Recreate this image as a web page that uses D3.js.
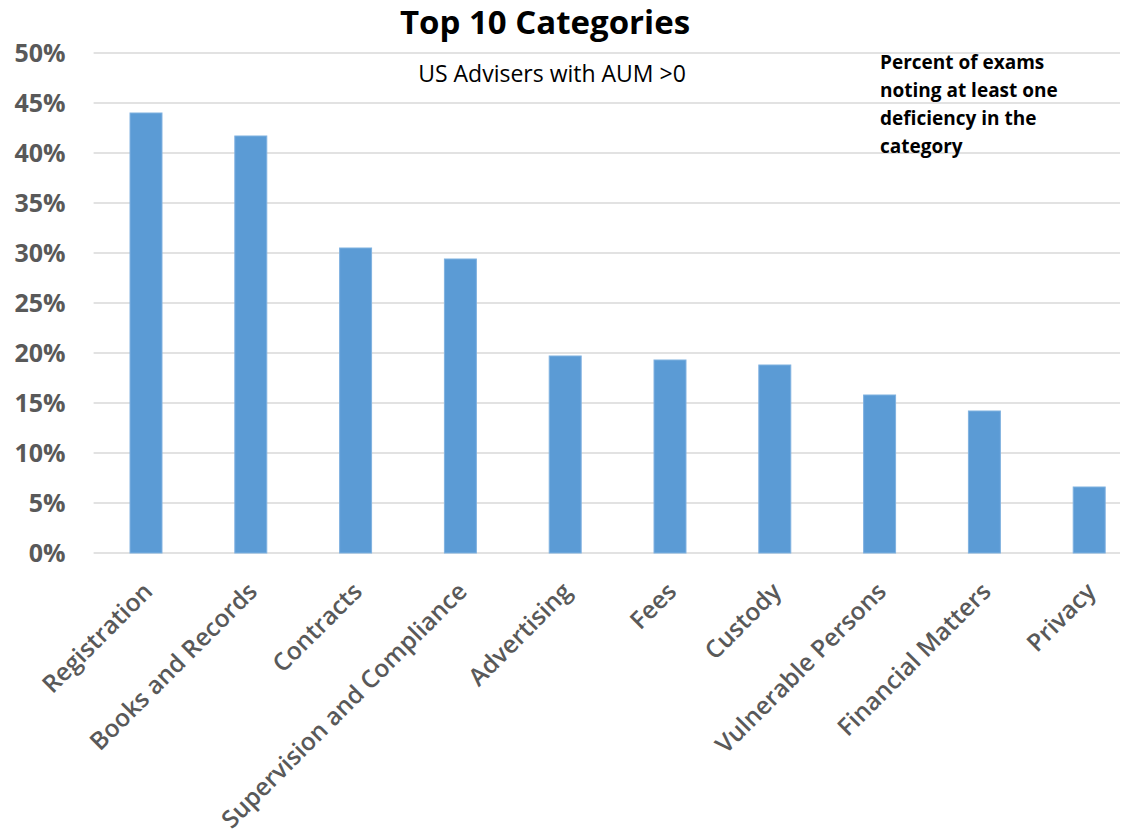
<!DOCTYPE html>
<html>
<head>
<meta charset="utf-8">
<script src="https://cdn.jsdelivr.net/npm/d3@7"></script>
<style>
  body { margin: 0; background: #fff; }
  text { font-family: "Open Sans", sans-serif; }
</style>
</head>
<body>
<div id="chart"></div>
<script>
// data
let categories = ["Registration", "Books and Records", "Contracts", "Supervision and Compliance",
    "Advertising", "Fees", "Custody", "Vulnerable Persons", "Financial Matters", "Privacy"];
let percents = [44.0, 41.7, 30.5, 29.4, 19.7, 19.3, 18.8, 15.8, 14.2, 6.6];
let yTicks = [0, 5, 10, 15, 20, 25, 30, 35, 40, 45, 50];

let width = 1124;
let height = 839;

let margin = { top: 53, bottom: 286, left: 93.6, right: -17.6 };
let chartHeight = height - margin.top - margin.bottom;
let chartWidth = width - margin.left - margin.right;

let svg = d3.select("#chart")
    .append("svg")
    .attr("width", width)
    .attr("height", height);

let chartGroup = svg.append("g")
    .attr("transform", `translate(${margin.left}, ${margin.top})`);

let xScale = d3.scaleBand()
    .domain(categories)
    .range([0, chartWidth])
    .paddingInner(0.695)
    .paddingOuter(0.3475);

let yScale = d3.scaleLinear()
    .domain([0, 50])
    .range([chartHeight, 0]);

// gridlines
chartGroup.append("g")
    .selectAll("line")
    .data(yTicks)
    .enter()
    .append("line")
    .attr("x1", 0)
    .attr("x2", 1120 - margin.left)
    .attr("y1", d => yScale(d))
    .attr("y2", d => yScale(d))
    .attr("stroke", "#d9d9d9")
    .attr("stroke-width", 1.5);

// y axis labels
let yAxis = d3.axisLeft(yScale)
    .tickValues(yTicks)
    .tickFormat(d => d + "%")
    .tickSize(0)
    .tickPadding(28);

let yg = chartGroup.append("g").call(yAxis);
yg.select(".domain").remove();
yg.selectAll("text")
    .attr("fill", "#595959")
    .style("font-size", "25px")
    .style("font-weight", "700")
    .style("font-family", "'Open Sans', sans-serif");

// bars
chartGroup.selectAll("rect")
    .data(percents)
    .enter()
    .append("rect")
    .attr("x", (d, i) => xScale(categories[i]))
    .attr("y", d => yScale(d))
    .attr("width", xScale.bandwidth())
    .attr("height", d => chartHeight - yScale(d))
    .attr("fill", "#5b9bd5")
    .attr("stroke", "#7fb1e0")
    .attr("stroke-width", 1);

// category labels
chartGroup.append("g")
    .selectAll("text")
    .data(categories)
    .enter()
    .append("text")
    .attr("transform", d => `translate(${xScale(d) + xScale.bandwidth() / 2 + 8}, ${chartHeight + 40}) rotate(-45)`)
    .attr("text-anchor", "end")
    .attr("fill", "#595959")
    .style("font-size", "24.5px")
    .style("font-weight", "600")
    .text(d => d);

// title
svg.append("text")
    .attr("x", 545)
    .attr("y", 34)
    .attr("text-anchor", "middle")
    .style("font-size", "33px")
    .style("font-weight", "700")
    .attr("fill", "#000")
    .text("Top 10 Categories");

svg.append("text")
    .attr("x", 552)
    .attr("y", 82)
    .attr("text-anchor", "middle")
    .style("font-size", "23px")
    .attr("fill", "#000")
    .text("US Advisers with AUM >0");

// note
let note = ["Percent of exams", "noting at least one", "deficiency in the", "category"];
svg.append("g")
    .selectAll("text")
    .data(note)
    .enter()
    .append("text")
    .attr("x", 880)
    .attr("y", (d, i) => 69 + i * 28)
    .style("font-size", "19px")
    .style("font-weight", "700")
    .attr("fill", "#000")
    .text(d => d);
</script>
</body>
</html>
